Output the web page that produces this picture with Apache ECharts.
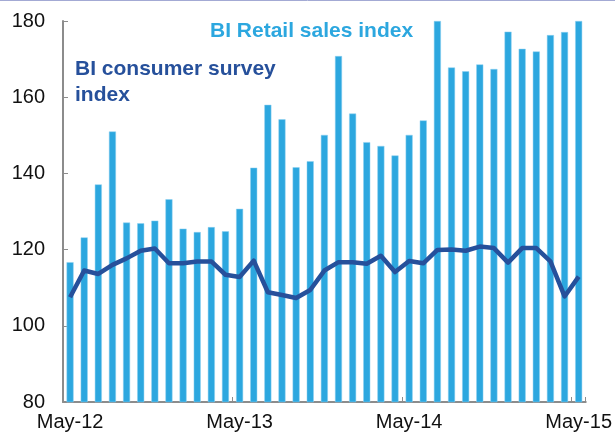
<!DOCTYPE html>
<html>
<head>
<meta charset="utf-8">
<script src="https://cdn.jsdelivr.net/npm/echarts@6/dist/echarts.min.js"></script>
<style>html,body{margin:0;padding:0;background:#fff;}#c{width:615px;height:440px;}</style>
</head>
<body>
<div id="c"></div>
<script>
const categories = ['May-12','Jun-12','Jul-12','Aug-12','Sep-12','Oct-12','Nov-12','Dec-12','Jan-13','Feb-13','Mar-13','Apr-13',
  'May-13','Jun-13','Jul-13','Aug-13','Sep-13','Oct-13','Nov-13','Dec-13','Jan-14','Feb-14','Mar-14','Apr-14',
  'May-14','Jun-14','Jul-14','Aug-14','Sep-14','Oct-14','Nov-14','Dec-14','Jan-15','Feb-15','Mar-15','Apr-15','May-15'];
const retailSales = [116.7,123.2,137.1,151.0,127.1,126.9,127.6,133.2,125.5,124.6,125.9,124.8,
  130.7,141.5,158.0,154.2,141.6,143.2,150.1,170.8,155.7,148.2,147.2,144.7,
  150.1,153.9,180,167.8,166.8,168.6,167.4,177.2,172.7,172.0,176.3,177.1,180];
const consumerSurvey = [107.5,114.5,113.6,116.0,117.7,119.7,120.3,116.4,116.4,116.9,116.9,113.4,
  112.8,117.1,108.8,108.1,107.3,109.4,114.5,116.7,116.7,116.3,118.4,114.1,
  117.0,116.4,119.9,120.0,119.7,120.8,120.4,116.6,120.4,120.4,116.9,107.7,112.9];
const yTicks = {min: 80, max: 180, interval: 20};

const chart = echarts.init(document.getElementById('c'), null, {renderer: 'canvas'});
chart.setOption({
  animation: false,
  backgroundColor: '#ffffff',
  grid: {left: 63, right: 27, top: 21, bottom: 38},
  xAxis: {
    type: 'category',
    data: categories,
    boundaryGap: true,
    axisLine: {lineStyle: {color: '#8c8c8c', width: 2}},
    axisTick: {show: true, inside: true, length: 5, interval: 11, alignWithLabel: false, lineStyle: {color: '#8c8c8c', width: 1}},
    axisLabel: {interval: 11, color: '#111', fontSize: 20, fontFamily: 'Liberation Sans, Arial', margin: 10}
  },
  yAxis: {
    type: 'value',
    min: yTicks.min, max: yTicks.max, interval: yTicks.interval,
    splitLine: {show: false},
    axisLine: {show: true, lineStyle: {color: '#8c8c8c', width: 2}},
    axisTick: {show: true, inside: true, length: 5, lineStyle: {color: '#8c8c8c', width: 1}},
    axisLabel: {color: '#111', fontSize: 20, fontFamily: 'Liberation Sans, Arial', margin: 18}
  },
  series: [
    {
      type: 'bar',
      data: retailSales,
      barWidth: 7,
      itemStyle: {color: '#2ca7df', borderColor: '#8fd0f0', borderWidth: 0.5},
      z: 2
    },
    {
      type: 'line',
      data: consumerSurvey,
      symbol: 'none',
      lineStyle: {color: '#26509b', width: 4.5, join: 'round'},
      z: 3
    }
  ],
  graphic: [
    {type: 'line', shape: {x1: 0, y1: 0.5, x2: 615, y2: 0.5}, style: {stroke: '#a3aad4', lineWidth: 1}},
    {type: 'text', x: 210, y: 21, style: {text: 'BI Retail sales index', font: 'bold 21px "Liberation Sans", Arial', fill: '#2ca7df', textVerticalAlign: 'top'}},
    {type: 'text', x: 75, y: 56, style: {text: 'BI consumer survey\nindex', font: 'bold 21px "Liberation Sans", Arial', fill: '#26509b', lineHeight: 26, textVerticalAlign: 'top'}}
  ]
});
</script>
</body>
</html>
